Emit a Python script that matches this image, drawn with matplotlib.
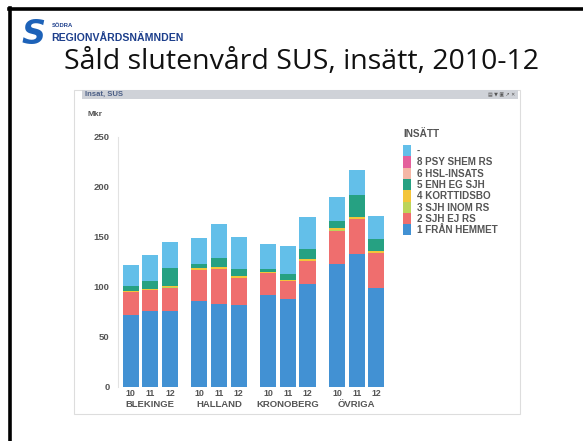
import matplotlib
matplotlib.use("Agg")
import matplotlib.pyplot as plt
from matplotlib.patches import Rectangle
from matplotlib.lines import Line2D
import numpy as np

regions = ["BLEKINGE", "HALLAND", "KRONOBERG", "ÖVRIGA"]
years = ["10", "11", "12"]
series_names = ["1 FRÅN HEMMET", "2 SJH EJ RS", "3 SJH INOM RS", "4 KORTTIDSBO",
                "5 ENH EG SJH", "6 HSL-INSATS", "8 PSY SHEM RS", "-"]
fran_hemmet = [72, 76, 76, 86, 83, 82.5, 92, 88, 103, 123, 133, 99]
sjh_ej_rs = [23, 21, 23.5, 31, 35, 26.5, 22, 18, 23, 33, 35, 35]
sjh_inom_rs = [0.5, 0.5, 0.5, 0.5, 0.5, 0.5, 0.3, 0.3, 0.5, 1, 0.5, 0.5]
korttidsbo = [1, 1, 1.5, 1.5, 1.5, 1.5, 0.7, 0.7, 1.5, 2, 1.5, 1.5]
enh_eg_sjh = [4.5, 7.5, 18, 4, 9, 7, 3, 6, 10, 7, 22, 12]
hsl_insats = [0, 0, 0, 0, 0, 0, 0, 0, 0, 0, 0, 0]
psy_shem_rs = [0, 0, 0, 0, 0, 0, 0, 0, 0, 0, 0, 0]
ovrigt = [21, 26, 25.5, 26, 34, 32, 25, 28, 32, 24, 25, 23]
y_ticks = [0, 50, 100, 150, 200, 250]

series = [fran_hemmet, sjh_ej_rs, sjh_inom_rs, korttidsbo, enh_eg_sjh,
          hsl_insats, psy_shem_rs, ovrigt]
colors = ["#4291d3", "#ef6e6e", "#bcd45a", "#f3c53a", "#26a182",
          "#f5b7a6", "#e4609c", "#63bfe9"]

W, H = 583, 441
fig = plt.figure(figsize=(W / 100, H / 100), dpi=100)
fig.patch.set_facecolor("white")

def fx(px):
    return px / W

def fy(py):
    return 1 - py / H

# slide frame (left and top)
fig.add_artist(Line2D([fx(10), fx(10)], [fy(8), 0], color="black", lw=2.6))
fig.add_artist(Line2D([fx(8.7), 1], [fy(9), fy(9)], color="black", lw=2.6))

# logo
fig.text(fx(22), fy(34), "S", fontsize=24, fontweight="bold", style="italic",
         color="#1d62b8", family="DejaVu Sans", va="center", ha="left")
fig.text(fx(52), fy(25.5), "SÖDRA", fontsize=4.2, fontweight="bold",
         color="#1d3f8c", family="Liberation Sans", va="center", ha="left")
fig.text(fx(51), fy(38), "REGIONVÅRDSNÄMNDEN", fontsize=7.6, fontweight="bold",
         color="#1d3f8c", family="Liberation Sans", va="center", ha="left")

# slide title
fig.text(fx(64), fy(62), "Såld slutenvård SUS, insätt, 2010-12", fontsize=20.5,
         color="#111111", family="Open Sans", va="center", ha="left")

# embedded chart panel
fig.add_artist(Rectangle((fx(74), fy(414)), fx(520 - 74), (414 - 90) / H,
                         transform=fig.transFigure, facecolor="white",
                         edgecolor="#dddddd", lw=0.8, zorder=-5))
fig.add_artist(Rectangle((fx(82), fy(99)), fx(518 - 82), 9 / H,
                         transform=fig.transFigure, facecolor="#cfd2d8",
                         edgecolor="none", zorder=-4))
fig.text(fx(85), fy(94.5), "Insat, SUS", fontsize=5.5, color="#4b5e85",
         family="Liberation Sans", fontweight="bold", va="center", ha="left")
fig.text(fx(515), fy(94.5), "▤ ▼ ▣ ↗ ✕", fontsize=3.5, color="#555555",
         family="DejaVu Sans", va="center", ha="right")

# axes
ax_left, ax_right, ax_top, ax_bottom = 118, 392, 137, 387
ax = fig.add_axes([fx(ax_left), fy(ax_bottom), fx(ax_right - ax_left),
                   (ax_bottom - ax_top) / H])
ax.set_zorder(2)
positions = []
for g in range(len(regions)):
    for i in range(len(years)):
        positions.append(g * 3.5 + i)
positions = np.array(positions)

bottom = np.zeros(len(positions))
for vals, c in zip(series, colors):
    v = np.array(vals, dtype=float)
    ax.bar(positions, v, bottom=bottom, width=0.82, color=c, edgecolor="none")
    bottom += v

ax.set_xlim(-0.64, 13.3)
ax.set_ylim(0, 250)
ax.set_yticks(y_ticks)
ax.set_yticklabels([str(t) for t in y_ticks])
ax.tick_params(axis="y", length=0, pad=6, labelsize=6.8, labelcolor="#555555")
ax.set_xticks(positions)
ax.set_xticklabels(years * len(regions))
ax.tick_params(axis="x", length=0, pad=1.5, labelsize=6.4, labelcolor="#555555")
for lab in ax.get_xticklabels() + ax.get_yticklabels():
    lab.set_fontweight("bold")
    lab.set_family("Liberation Sans")
for s in ["top", "right", "bottom"]:
    ax.spines[s].set_visible(False)
ax.spines["left"].set_color("#e2e2e2")
ax.spines["left"].set_linewidth(0.8)
ax.set_facecolor("none")

for g, name in enumerate(regions):
    ax.text(g * 3.5 + 1, -17.5, name, ha="center", va="center", fontsize=6.8,
            fontweight="bold", color="#555555", family="Liberation Sans",
            clip_on=False)

fig.text(fx(88), fy(114), "Mkr", fontsize=6, fontweight="bold", color="#555555",
         family="Liberation Sans", va="center", ha="left")

# legend
fig.text(fx(403), fy(134), "INSÄTT", fontsize=7.2, fontweight="bold",
         color="#555555", family="Liberation Sans", va="center", ha="left")
row_h = 11.3
top_y = 145
legend_order = list(range(len(series_names)))[::-1]
for k, idx in enumerate(legend_order):
    y0 = top_y + k * row_h
    fig.add_artist(Rectangle((fx(403), fy(y0 + row_h)), fx(8), row_h / H,
                             transform=fig.transFigure, facecolor=colors[idx],
                             edgecolor="none"))
    fig.text(fx(417), fy(y0 + row_h / 2 + 0.5), series_names[idx], fontsize=7.1,
             fontweight="bold", color="#555555", family="Liberation Sans",
             va="center", ha="left")

fig.savefig("out.png", dpi=100, facecolor="white")
